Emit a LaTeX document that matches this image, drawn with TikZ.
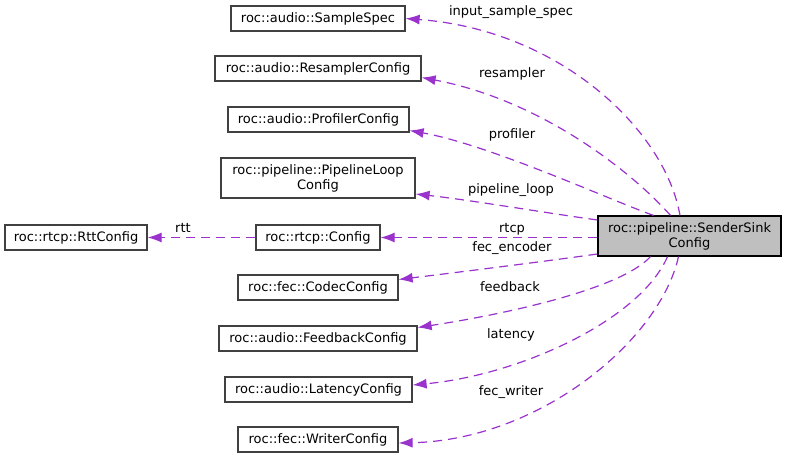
\documentclass[tikz,border=0pt]{standalone}
\usepackage{fontspec}
\setmainfont{DejaVu Sans}
\usetikzlibrary{arrows.meta}

\begin{document}
\begin{tikzpicture}[x=1pt, y=-1pt, font=\fontsize{13}{15}\selectfont, >={Latex[length=14pt,width=10pt]}]
    \tikzstyle{class_box} = [draw=black!75, line width=1.2pt, rectangle, minimum height=25pt, inner sep=2pt, align=center]
    \tikzstyle{main_box} = [class_box, draw=black, fill=black!25]
    \tikzstyle{member_arrow} = [->, color={rgb,255:red,154;green,50;blue,205}, line width=1.2pt, dash pattern=on 9pt off 6pt]
    \tikzstyle{member_label} = [inner sep=0pt]

    \useasboundingbox (0,0) rectangle (787,459);

    \node[main_box, minimum width=183pt, minimum height=40pt] (nSink) at (689.5,236) {roc::pipeline::SenderSink\\Config};

    \node[class_box, minimum width=174pt] (nSpec) at (318,18.5) {roc::audio::SampleSpec};
    \node[class_box, minimum width=206pt] (nResampler) at (318,68.5) {roc::audio::ResamplerConfig};
    \node[class_box, minimum width=181pt] (nProfiler) at (318.5,119.5) {roc::audio::ProfilerConfig};
    \node[class_box, minimum width=194pt, minimum height=40pt] (nLoop) at (318,178) {roc::pipeline::PipelineLoop\\Config};
    \node[class_box, minimum width=124pt] (nRtcp) at (318,237.5) {roc::rtcp::Config};
    \node[class_box, minimum width=142pt] (nRtt) at (76,237.5) {roc::rtcp::RttConfig};
    \node[class_box, minimum width=160pt] (nCodec) at (318,287.5) {roc::fec::CodecConfig};
    \node[class_box, minimum width=198pt] (nFeedback) at (318,338.5) {roc::audio::FeedbackConfig};
    \node[class_box, minimum width=187pt] (nLatency) at (318.5,389.5) {roc::audio::LatencyConfig};
    \node[class_box, minimum width=160pt] (nWriter) at (318,439.5) {roc::fec::WriterConfig};

    \draw[member_arrow] ([xshift=-9.5pt]nSink.north) .. controls (665,130) and (560,30) .. (nSpec.east);
    \draw[member_arrow] ([xshift=-19pt]nSink.north) .. controls (630,170) and (540,100) .. ([yshift=-9pt]nResampler.east);
    \draw[member_arrow] ([xshift=-36pt]nSink.north) .. controls (610,200) and (490,145) .. ([yshift=-11pt]nProfiler.east);
    \draw[member_arrow] ([yshift=16pt]nSink.west) .. controls (540,212) and (470,200) .. ([yshift=-16pt]nLoop.east);
    \draw[member_arrow] (nSink.west |- nRtcp) -- (nRtcp);
    \draw[member_arrow] ([yshift=-18pt]nSink.west) .. controls (540,262) and (460,272) .. ([yshift=8pt]nCodec.east);
    \draw[member_arrow] ([xshift=-39pt]nSink.south) .. controls (620,290) and (500,315) .. ([yshift=11pt]nFeedback.east);
    \draw[member_arrow] ([xshift=-22pt]nSink.south) .. controls (640,320) and (520,375) .. ([yshift=4.5pt]nLatency.east);
    \draw[member_arrow] ([xshift=-11pt]nSink.south) .. controls (660,340) and (540,440) .. ([yshift=-3.5pt]nWriter.east);
    \draw[member_arrow] (nRtcp) -- (nRtt);

    \node[member_label] (lSpec) at (511,12) {input\_sample\_spec};
    \node[member_label] (lResampler) at (512,74) {resampler};
    \node[member_label] (lProfiler) at (512,135) {profiler};
    \node[member_label] (lLoop) at (511,190) {pipeline\_loop};
    \node[member_label] (lRtcp) at (512,229) {rtcp};
    \node[member_label] (lCodec) at (512,248) {fec\_encoder};
    \node[member_label] (lFeedback) at (510,287) {feedback};
    \node[member_label] (lLatency) at (511,335) {latency};
    \node[member_label] (lWriter) at (511,392) {fec\_writer};
    \node[member_label] (lRtt) at (183,228) {rtt};
\end{tikzpicture}
\end{document}
